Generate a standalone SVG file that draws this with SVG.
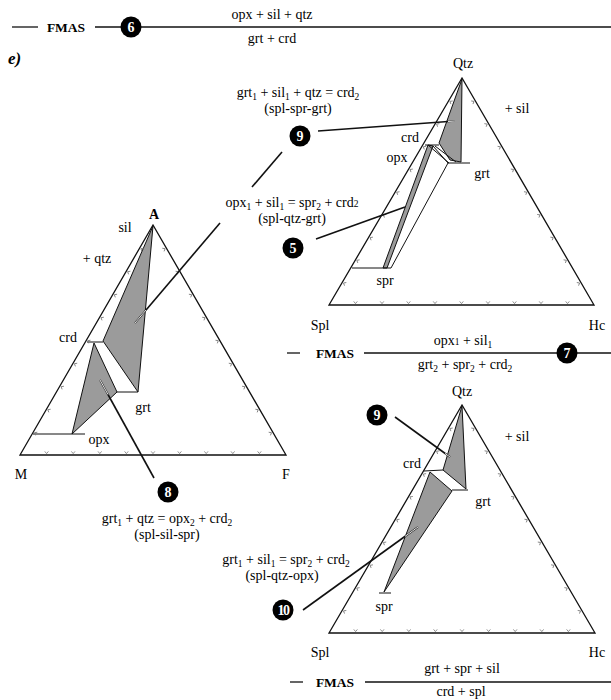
<svg xmlns="http://www.w3.org/2000/svg" xmlns:xlink="http://www.w3.org/1999/xlink" width="611" height="700" viewBox="0 0 611 700">
<style>
text{font-family:"Liberation Serif","Times New Roman",serif;font-size:14px;fill:#000}
.c{text-anchor:middle}
.b{font-weight:bold;font-size:13.5px}
.s{font-size:9.5px}
.tri{fill:none;stroke:#111;stroke-width:1.3;stroke-linejoin:miter}
.sh{fill:#9b9b9b;stroke:#111;stroke-width:1}
.ln{fill:none;stroke:#111;stroke-width:1}
.bar{stroke:#111;stroke-width:1.3}
.ld{fill:none;stroke:#111;stroke-width:1.6}
.hol{fill:none;stroke:#fff;stroke-width:0.9}
.bub{fill:#000}
.bn{font-family:"Liberation Serif","Times New Roman",serif;font-weight:bold;font-size:14px;fill:#fff;text-anchor:middle}
.tk{fill:none;stroke:#777;stroke-width:0.8}
</style>
<defs>
<path id="tk" class="tk" d="M-1.8,-3.6 L0,-1.4 L1.8,-3.6"/>
</defs>

<!-- top bar 6 -->
<g id="bar6">
<line class="bar" x1="12" y1="27" x2="38" y2="27"/>
<text class="b c" x="66" y="32">FMAS</text>
<line class="bar" x1="95" y1="27" x2="611" y2="27"/>
<text class="c" x="272" y="19">opx + sil + qtz</text>
<text class="c" x="272" y="43">grt + crd</text>
</g>
<text x="8" y="64" style="font-weight:bold;font-style:italic;font-size:17px">e)</text>

<!-- left triangle AMF -->
<g id="triAMF">
<polygon class="sh" points="153,226 103,341 138,392"/>
<polygon class="sh" points="94,343 72,434 117,392"/>
<line class="ln" x1="87" y1="342" x2="103" y2="342"/>
<line class="ln" x1="117" y1="392" x2="138" y2="392"/>
<line class="ln" x1="33" y1="434" x2="85" y2="434"/>
<polygon class="tri" points="153,225 20,455 286,455"/>
<g>
<use xlink:href="#tk" transform="translate(46.6,455)"/><use xlink:href="#tk" transform="translate(73.2,455)"/><use xlink:href="#tk" transform="translate(99.8,455)"/><use xlink:href="#tk" transform="translate(126.4,455)"/><use xlink:href="#tk" transform="translate(153,455)"/><use xlink:href="#tk" transform="translate(179.6,455)"/><use xlink:href="#tk" transform="translate(206.2,455)"/><use xlink:href="#tk" transform="translate(232.8,455)"/><use xlink:href="#tk" transform="translate(259.4,455)"/>
<use xlink:href="#tk" transform="translate(139.7,248) rotate(120)"/><use xlink:href="#tk" transform="translate(126.4,271) rotate(120)"/><use xlink:href="#tk" transform="translate(113.1,294) rotate(120)"/><use xlink:href="#tk" transform="translate(99.8,317) rotate(120)"/><use xlink:href="#tk" transform="translate(86.5,340) rotate(120)"/><use xlink:href="#tk" transform="translate(73.2,363) rotate(120)"/><use xlink:href="#tk" transform="translate(59.9,386) rotate(120)"/><use xlink:href="#tk" transform="translate(46.6,409) rotate(120)"/><use xlink:href="#tk" transform="translate(33.3,432) rotate(120)"/>
<use xlink:href="#tk" transform="translate(166.3,248) rotate(-120)"/><use xlink:href="#tk" transform="translate(179.6,271) rotate(-120)"/><use xlink:href="#tk" transform="translate(192.9,294) rotate(-120)"/><use xlink:href="#tk" transform="translate(206.2,317) rotate(-120)"/><use xlink:href="#tk" transform="translate(219.5,340) rotate(-120)"/><use xlink:href="#tk" transform="translate(232.8,363) rotate(-120)"/><use xlink:href="#tk" transform="translate(246.1,386) rotate(-120)"/><use xlink:href="#tk" transform="translate(259.4,409) rotate(-120)"/><use xlink:href="#tk" transform="translate(272.7,432) rotate(-120)"/>
</g>
<text class="b c" x="154" y="219" style="font-size:14px">A</text>
<text class="c" x="125" y="232">sil</text>
<text class="c" x="97" y="263">+ qtz</text>
<text class="c" x="68" y="342">crd</text>
<text class="c" x="143" y="412">grt</text>
<text class="c" x="99" y="444">opx</text>
<text class="c" x="21" y="479">M</text>
<text class="c" x="286" y="479">F</text>
</g>

<!-- upper right triangle -->
<g id="triQtz1">
<polygon class="sh" points="462,79 439,143 450,160 461,162"/>
<polygon class="sh" points="428,145 433,146 387,268 383,268"/>
<line class="ln" x1="425" y1="145" x2="439" y2="145"/>
<line class="ln" x1="428" y1="145" x2="449" y2="163"/>
<line class="ln" x1="435" y1="146" x2="456" y2="162"/>
<line class="ln" x1="448" y1="163" x2="391" y2="268"/>
<line class="ln" x1="433" y1="146" x2="448" y2="163"/>
<line class="ln" x1="448" y1="163" x2="470" y2="163"/>
<line class="ln" x1="352" y1="268" x2="391" y2="268"/>
<polygon class="tri" points="462,78 329,305 594,305"/>
<g>
<use xlink:href="#tk" transform="translate(355.5,305)"/><use xlink:href="#tk" transform="translate(382,305)"/><use xlink:href="#tk" transform="translate(408.5,305)"/><use xlink:href="#tk" transform="translate(435,305)"/><use xlink:href="#tk" transform="translate(461.5,305)"/><use xlink:href="#tk" transform="translate(488,305)"/><use xlink:href="#tk" transform="translate(514.5,305)"/><use xlink:href="#tk" transform="translate(541,305)"/><use xlink:href="#tk" transform="translate(567.5,305)"/>
<use xlink:href="#tk" transform="translate(448.7,100.7) rotate(120)"/><use xlink:href="#tk" transform="translate(435.4,123.4) rotate(120)"/><use xlink:href="#tk" transform="translate(422.1,146.1) rotate(120)"/><use xlink:href="#tk" transform="translate(408.8,168.8) rotate(120)"/><use xlink:href="#tk" transform="translate(395.5,191.5) rotate(120)"/><use xlink:href="#tk" transform="translate(382.2,214.2) rotate(120)"/><use xlink:href="#tk" transform="translate(368.9,236.9) rotate(120)"/><use xlink:href="#tk" transform="translate(355.6,259.6) rotate(120)"/><use xlink:href="#tk" transform="translate(342.3,282.3) rotate(120)"/>
<use xlink:href="#tk" transform="translate(475.2,100.7) rotate(-120)"/><use xlink:href="#tk" transform="translate(488.4,123.4) rotate(-120)"/><use xlink:href="#tk" transform="translate(501.6,146.1) rotate(-120)"/><use xlink:href="#tk" transform="translate(514.8,168.8) rotate(-120)"/><use xlink:href="#tk" transform="translate(528,191.5) rotate(-120)"/><use xlink:href="#tk" transform="translate(541.2,214.2) rotate(-120)"/><use xlink:href="#tk" transform="translate(554.4,236.9) rotate(-120)"/><use xlink:href="#tk" transform="translate(567.6,259.6) rotate(-120)"/><use xlink:href="#tk" transform="translate(580.8,282.3) rotate(-120)"/>
</g>
<text class="c" x="463" y="68">Qtz</text>
<text class="c" x="517" y="113">+ sil</text>
<text class="c" x="410" y="142">crd</text>
<text class="c" x="397" y="162">opx</text>
<text class="c" x="482" y="178">grt</text>
<text class="c" x="385" y="285">spr</text>
<text class="c" x="320" y="330">Spl</text>
<text class="c" x="597" y="330">Hc</text>
</g>

<!-- bar 7 -->
<g id="bar7">
<line class="bar" x1="287" y1="353" x2="300" y2="353"/>
<text class="b c" x="335" y="358">FMAS</text>
<line class="bar" x1="364" y1="353" x2="611" y2="353"/>
<text class="c" x="463" y="345">opx<tspan class="s">1</tspan> + sil<tspan class="s" dy="3">1</tspan></text>
<text class="c" x="465" y="369">grt<tspan class="s" dy="3">2</tspan><tspan dy="-3"> + spr</tspan><tspan class="s" dy="3">2</tspan><tspan dy="-3"> + crd</tspan><tspan class="s" dy="3">2</tspan></text>
</g>

<!-- lower right triangle -->
<g id="triQtz2">
<polygon class="sh" points="462,406 443,470 466,489"/>
<polygon class="sh" points="430,472 452,491 384,592"/>
<line class="ln" x1="424" y1="471" x2="443" y2="470"/>
<line class="ln" x1="452" y1="490" x2="468" y2="490"/>
<line class="ln" x1="379" y1="593" x2="391" y2="593"/>
<polygon class="tri" points="462,405 329,633 595,633"/>
<g>
<use xlink:href="#tk" transform="translate(355.6,633)"/><use xlink:href="#tk" transform="translate(382.2,633)"/><use xlink:href="#tk" transform="translate(408.8,633)"/><use xlink:href="#tk" transform="translate(435.4,633)"/><use xlink:href="#tk" transform="translate(462,633)"/><use xlink:href="#tk" transform="translate(488.6,633)"/><use xlink:href="#tk" transform="translate(515.2,633)"/><use xlink:href="#tk" transform="translate(541.8,633)"/><use xlink:href="#tk" transform="translate(568.4,633)"/>
<use xlink:href="#tk" transform="translate(448.7,427.8) rotate(120)"/><use xlink:href="#tk" transform="translate(435.4,450.6) rotate(120)"/><use xlink:href="#tk" transform="translate(422.1,473.4) rotate(120)"/><use xlink:href="#tk" transform="translate(408.8,496.2) rotate(120)"/><use xlink:href="#tk" transform="translate(395.5,519) rotate(120)"/><use xlink:href="#tk" transform="translate(382.2,541.8) rotate(120)"/><use xlink:href="#tk" transform="translate(368.9,564.6) rotate(120)"/><use xlink:href="#tk" transform="translate(355.6,587.4) rotate(120)"/><use xlink:href="#tk" transform="translate(342.3,610.2) rotate(120)"/>
<use xlink:href="#tk" transform="translate(475.3,427.8) rotate(-120)"/><use xlink:href="#tk" transform="translate(488.6,450.6) rotate(-120)"/><use xlink:href="#tk" transform="translate(501.9,473.4) rotate(-120)"/><use xlink:href="#tk" transform="translate(515.2,496.2) rotate(-120)"/><use xlink:href="#tk" transform="translate(528.5,519) rotate(-120)"/><use xlink:href="#tk" transform="translate(541.8,541.8) rotate(-120)"/><use xlink:href="#tk" transform="translate(555.1,564.6) rotate(-120)"/><use xlink:href="#tk" transform="translate(568.4,587.4) rotate(-120)"/><use xlink:href="#tk" transform="translate(581.7,610.2) rotate(-120)"/>
</g>
<text class="c" x="462" y="396">Qtz</text>
<text class="c" x="517" y="441">+ sil</text>
<text class="c" x="412" y="468">crd</text>
<text class="c" x="483" y="506">grt</text>
<text class="c" x="384" y="611">spr</text>
<text class="c" x="320" y="657">Spl</text>
<text class="c" x="597" y="657">Hc</text>
</g>

<!-- bottom bar -->
<g id="barBottom">
<line class="bar" x1="290" y1="682" x2="303" y2="682"/>
<text class="b c" x="335" y="687">FMAS</text>
<line class="bar" x1="365" y1="682" x2="611" y2="682"/>
<text class="c" x="462" y="673">grt + spr + sil</text>
<text class="c" x="461" y="696">crd + spl</text>
</g>

<!-- reaction labels -->
<g id="lab9">
<text class="c" x="298" y="97">grt<tspan class="s" dy="3">1</tspan><tspan dy="-3"> + sil</tspan><tspan class="s" dy="3">1</tspan><tspan dy="-3"> + qtz = crd</tspan><tspan class="s" dy="3">2</tspan></text>
<text class="c" x="298" y="113">(spl-spr-grt)</text>
</g>
<g id="lab5">
<text class="c" x="292" y="207">opx<tspan class="s" dy="3">1</tspan><tspan dy="-3"> + sil</tspan><tspan class="s" dy="3">1</tspan><tspan dy="-3"> = spr</tspan><tspan class="s" dy="3">2</tspan><tspan dy="-3"> + crd</tspan><tspan class="s">2</tspan></text>
<text class="c" x="292" y="223">(spl-qtz-grt)</text>
</g>
<g id="lab8">
<text class="c" x="167" y="523">grt<tspan class="s" dy="3">1</tspan><tspan dy="-3"> + qtz = opx</tspan><tspan class="s" dy="3">2</tspan><tspan dy="-3"> + crd</tspan><tspan class="s" dy="3">2</tspan></text>
<text class="c" x="167" y="539">(spl-sil-spr)</text>
</g>
<g id="lab10">
<text class="c" x="286" y="564">grt<tspan class="s" dy="3">1</tspan><tspan dy="-3"> + sil</tspan><tspan class="s" dy="3">1</tspan><tspan dy="-3"> = spr</tspan><tspan class="s" dy="3">2</tspan><tspan dy="-3"> + crd</tspan><tspan class="s" dy="3">2</tspan></text>
<text class="c" x="282" y="580">(spl-qtz-opx)</text>
</g>

<!-- connectors -->
<g id="connectors">
<line class="ld" x1="318" y1="131" x2="455" y2="121"/>
<line class="hol" x1="448" y1="121.5" x2="455" y2="121"/>
<line class="ld" x1="282" y1="152" x2="252" y2="187"/>
<line class="ld" x1="220" y1="223" x2="135" y2="323"/>
<line class="hol" x1="146" y1="310" x2="135" y2="323"/>
<line class="ld" x1="316" y1="239" x2="405" y2="207"/>
<line class="ld" x1="154" y1="478" x2="100" y2="380"/>
<line class="hol" x1="108" y1="394.5" x2="100" y2="380"/>
<line class="ld" x1="395" y1="417" x2="450" y2="457"/>
<line class="hol" x1="445" y1="453.4" x2="450" y2="457"/>
<line class="ld" x1="303" y1="610" x2="418" y2="527"/>
<line class="hol" x1="405" y1="536.4" x2="418" y2="527"/>
</g>

<!-- bubbles -->
<g id="b6"><circle class="bub" cx="131" cy="27" r="10.5"/><text class="bn" x="131" y="32">6</text></g>
<g id="b9a"><circle class="bub" cx="300" cy="136" r="10.5"/><text class="bn" x="300" y="141">9</text></g>
<g id="b5"><circle class="bub" cx="293" cy="248" r="10.5"/><text class="bn" x="293" y="253">5</text></g>
<g id="b8"><circle class="bub" cx="168" cy="492" r="10.5"/><text class="bn" x="168" y="497">8</text></g>
<g id="b7"><circle class="bub" cx="567" cy="353" r="10.5"/><text class="bn" x="567" y="358">7</text></g>
<g id="b9b"><circle class="bub" cx="377" cy="415" r="10.5"/><text class="bn" x="377" y="420">9</text></g>
<g id="b10"><circle class="bub" cx="283" cy="610" r="10.5"/><text class="bn" x="283" y="615" style="letter-spacing:-1.5px">10</text></g>
</svg>
